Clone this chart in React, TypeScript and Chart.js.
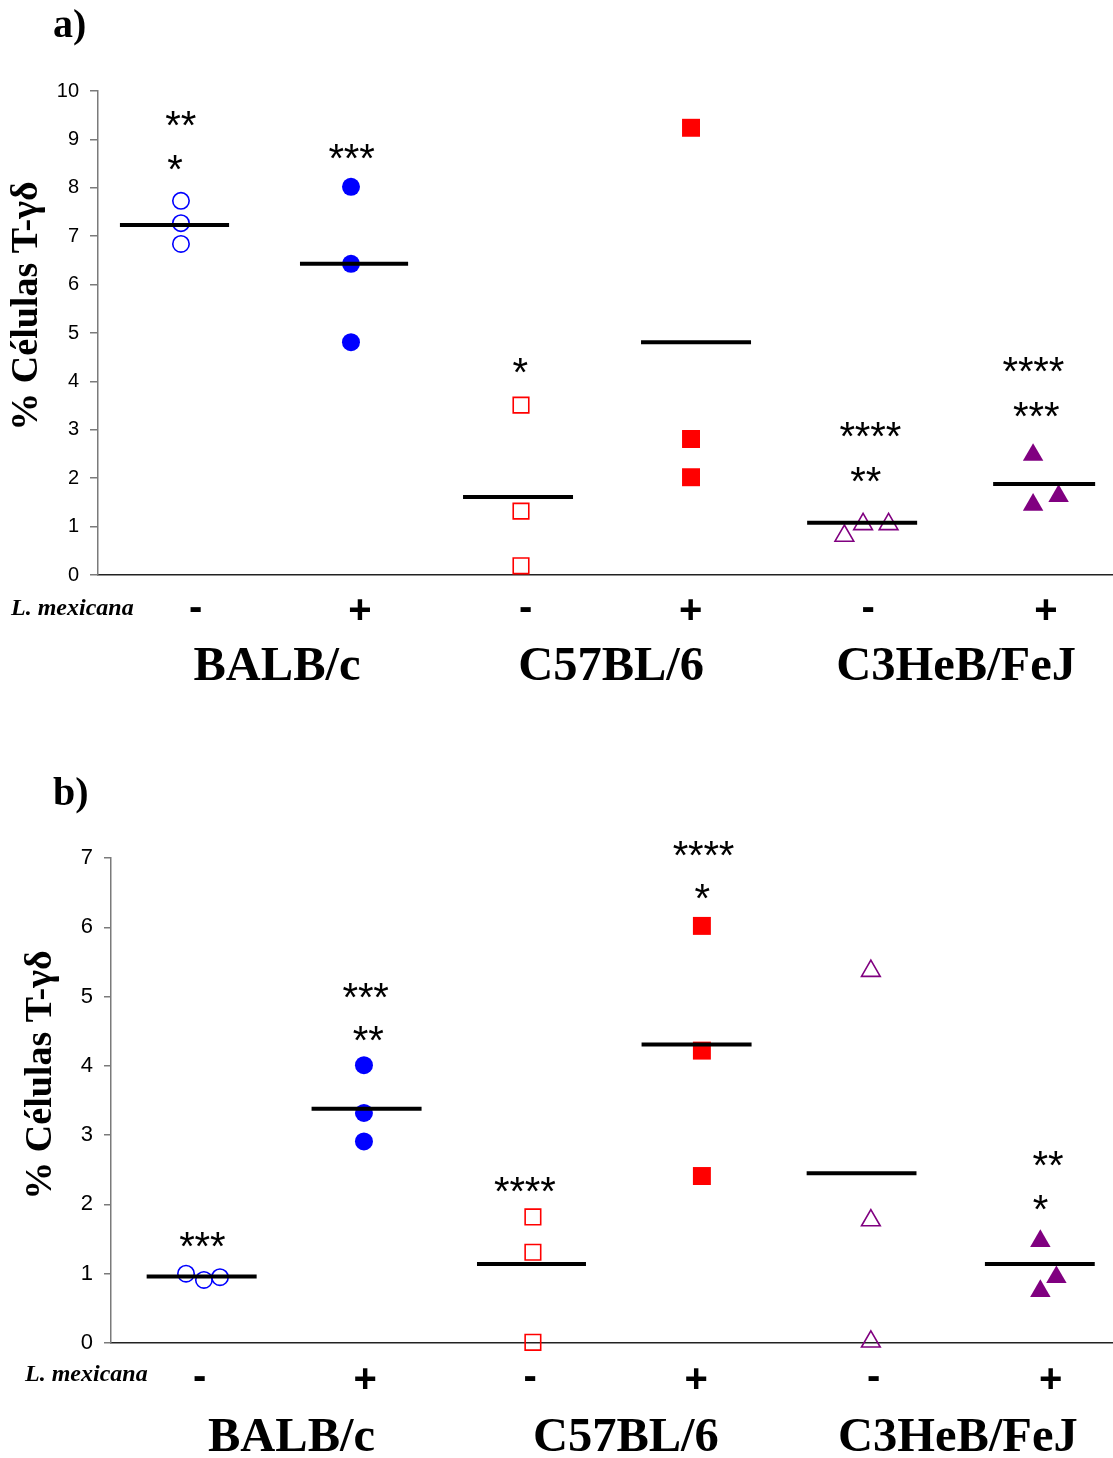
import React, { useEffect, useRef } from "react";
import { Chart, registerables } from "chart.js";

Chart.register(...registerables);

// ---------- data ----------
const groups = ["BALB/c -", "BALB/c +", "C57BL/6 -", "C57BL/6 +", "C3HeB/FeJ -", "C3HeB/FeJ +"];
const infection = ["-", "+", "-", "+", "-", "+"];
const strains = ["BALB/c", "C57BL/6", "C3HeB/FeJ"];
const yTitle = "% Células T-γδ";
const infectionLabel = "L. mexicana";

// panel a) individual values and means
const aValues = [
  [7.73, 7.27, 6.84],
  [8.02, 6.43, 4.81],
  [3.51, 1.32, 0.19],
  [9.24, 2.81, 2.02],
  [0.81, 1.05, 1.05],
  [2.48, 1.45, 1.63],
];
const aMeans = [7.23, 6.43, 1.61, 4.81, 1.08, 1.88];
const aStars = [["**", "*"], ["***"], ["*"], [], ["****", "**"], ["****", "***"]];
const aStarY = [[9.43, 8.53], [8.76], [4.32], [], [3.0, 2.08], [4.34, 3.42]];
const aYMax = 10;

// panel b) individual values and means
const bValues = [
  [1.0, 0.91, 0.95],
  [4.01, 3.32, 2.91],
  [1.82, 1.31, 0.01],
  [6.02, 4.22, 2.41],
  [5.37, 1.77, 0.02],
  [1.47, 0.95, 0.75],
];
const bMeans = [0.96, 3.38, 1.14, 4.31, 2.45, 1.14];
const bStars = [["***"], ["***", "**"], ["****"], ["****", "*"], [], ["**", "*"]];
const bStarY = [[1.49], [5.09, 4.47], [2.29], [7.14, 6.51], [], [2.67, 2.03]];
const bYMax = 7;

// ---------- styles / layout ----------
const BLUE = "#0000ff";
const RED = "#ff0000";
const PURPLE = "#800080";
const SERIF = '"Liberation Serif", "Times New Roman", serif';
const SANS = '"Liberation Sans", Arial, sans-serif';

const markerStyles = [
  { pointStyle: "circle", color: BLUE, filled: false, radius: 8.2 },
  { pointStyle: "circle", color: BLUE, filled: true, radius: 9 },
  { pointStyle: "rect", color: RED, filled: false, radius: 11 },
  { pointStyle: "rect", color: RED, filled: true, radius: 12.7 },
  { pointStyle: "triangle", color: PURPLE, filled: false, radius: 10.8 },
  { pointStyle: "triangle", color: PURPLE, filled: true, radius: 11.8 },
];

const W = 1113;
const H = 729;

const layoutA = {
  label: "a)",
  plotLeft: 98,
  plotTop: 91,
  plotBottom: 575,
  xMax: 5.97,
  tickFont: 20,
  tickPad: 11,
  tickLen: 8,
  labelX: 53,
  labelBase: 37,
  titleX: 37,
  titleY: 306,
  lmexX: 11,
  lmexBase: 615,
  signY: 609,
  strainBase: 680,
  jitter: [
    [-0.012, -0.012, -0.012],
    [-0.012, -0.012, -0.012],
    [-0.012, -0.012, -0.012],
    [-0.012, -0.012, -0.012],
    [-0.11, 0.0, 0.15],
    [0.0, 0.0, 0.15],
  ],
  lineExt: [
    [0.129, 0.771],
    [1.188, 1.824],
    [2.147, 2.794],
    [3.194, 3.841],
    [4.171, 4.818],
    [5.265, 5.865],
  ],
  signX: [0.573, 1.539, 2.514, 3.485, 4.529, 5.575],
  strainX: [1.053, 3.018, 5.047],
  starX: [[0.485, 0.451], [1.49], [2.482], [], [4.541, 4.514], [5.5, 5.517]],
};

const layoutB = {
  label: "b)",
  plotLeft: 111,
  plotTop: 129,
  plotBottom: 614,
  xMax: 5.93,
  tickFont: 22,
  tickPad: 11,
  tickLen: 7,
  labelX: 53,
  labelBase: 76,
  titleX: 51,
  titleY: 346,
  lmexX: 25,
  lmexBase: 652,
  signY: 649,
  strainBase: 722,
  jitter: [
    [-0.056, 0.05, 0.145],
    [-0.003, -0.003, -0.003],
    [-0.003, -0.003, -0.003],
    [-0.003, -0.003, -0.003],
    [-0.003, -0.003, -0.003],
    [0.0, 0.095, 0.0],
  ],
  lineExt: [
    [0.211, 0.862],
    [1.187, 1.838],
    [2.166, 2.811],
    [3.14, 3.791],
    [4.117, 4.767],
    [5.172, 5.822],
  ],
  signX: [0.524, 1.503, 2.479, 3.462, 4.512, 5.56],
  strainX: [1.068, 3.047, 5.012],
  starX: [[0.539], [1.506, 1.521], [2.448], [3.505, 3.497], [], [5.544, 5.5]],
};

type Layout = typeof layoutA;

function drawInkCentered(ctx: CanvasRenderingContext2D, text: string, cx: number, cy: number) {
  ctx.textAlign = "left";
  ctx.textBaseline = "alphabetic";
  const m = ctx.measureText(text);
  const x0 = cx - (m.actualBoundingBoxRight - m.actualBoundingBoxLeft) / 2;
  const y0 = cy + (m.actualBoundingBoxAscent - m.actualBoundingBoxDescent) / 2;
  ctx.fillText(text, x0, y0);
}

function drawStars(ctx: CanvasRenderingContext2D, text: string, cx: number, cy: number) {
  const pitch = 15.4;
  ctx.font = `40px ${SANS}`;
  const n = text.length;
  const start = cx - ((n - 1) * pitch) / 2;
  for (let i = 0; i < n; i++) drawInkCentered(ctx, "*", start + i * pitch, cy);
}

function makeConfig(values: number[][], means: number[], stars: string[][], starY: number[][], yMax: number, L: Layout): any {
  const datasets: any[] = [];
  means.forEach((m, i) => {
    datasets.push({
      label: groups[i] + " mean",
      data: [
        { x: L.lineExt[i][0], y: m },
        { x: L.lineExt[i][1], y: m },
      ],
      showLine: true,
      borderColor: "#000",
      borderWidth: 4,
      borderCapStyle: "butt",
      pointRadius: 0,
      order: 0,
      clip: false,
    });
  });
  values.forEach((vals, i) => {
    const s = markerStyles[i];
    datasets.push({
      label: groups[i],
      data: vals.map((v, j) => ({ x: i + 0.5 + L.jitter[i][j], y: v })),
      showLine: false,
      pointStyle: s.pointStyle,
      pointRadius: s.radius,
      pointHoverRadius: s.radius,
      backgroundColor: s.filled ? s.color : "rgba(0,0,0,0)",
      borderColor: s.color,
      borderWidth: s.filled ? 0 : 1.6,
      order: 1,
      clip: false,
    });
  });

  const textPlugin = {
    id: "panelText",
    afterDraw(chart: any) {
      const ctx: CanvasRenderingContext2D = chart.ctx;
      const xs = chart.scales.x;
      const ys = chart.scales.y;
      ctx.save();
      ctx.fillStyle = "#000";

      // panel label
      ctx.font = `bold 40px ${SERIF}`;
      ctx.textAlign = "left";
      ctx.textBaseline = "alphabetic";
      ctx.fillText(L.label, L.labelX, L.labelBase);

      // y title
      ctx.save();
      ctx.translate(L.titleX, L.titleY);
      ctx.rotate(-Math.PI / 2);
      ctx.font = `bold 38px ${SERIF}`;
      ctx.textAlign = "center";
      ctx.textBaseline = "alphabetic";
      ctx.fillText(yTitle, 0, 0);
      ctx.restore();

      // infection label
      ctx.font = `italic bold 24px ${SERIF}`;
      ctx.textAlign = "left";
      ctx.fillText(infectionLabel, L.lmexX, L.lmexBase);

      // +/- signs
      ctx.font = `bold 40px ${SANS}`;
      infection.forEach((sgn, i) => {
        drawInkCentered(ctx, sgn, xs.getPixelForValue(L.signX[i]), L.signY);
      });

      // strain labels
      ctx.font = `bold 48.5px ${SERIF}`;
      ctx.textAlign = "center";
      ctx.textBaseline = "alphabetic";
      strains.forEach((st, i) => {
        ctx.fillText(st, xs.getPixelForValue(L.strainX[i]), L.strainBase);
      });

      // significance stars
      stars.forEach((list, i) => {
        list.forEach((t, j) => {
          drawStars(ctx, t, xs.getPixelForValue(L.starX[i][j]), ys.getPixelForValue(starY[i][j]));
        });
      });
      ctx.restore();
    },
  };

  return {
    type: "scatter",
    data: { datasets },
    options: {
      animation: false,
      responsive: false,
      maintainAspectRatio: false,
      events: [],
      layout: { autoPadding: false, padding: { top: L.plotTop, left: 0, right: 0, bottom: 0 } },
      plugins: {
        legend: { display: false },
        tooltip: { enabled: false },
        title: { display: false },
      },
      scales: {
        x: {
          type: "linear",
          min: 0,
          max: L.xMax,
          ticks: { display: false },
          grid: { display: false, drawTicks: false },
          border: { display: true, color: "#222", width: 1.5 },
          afterFit: (s: any) => {
            s.height = H - L.plotBottom;
            s.paddingLeft = 0;
            s.paddingRight = 0;
          },
        },
        y: {
          type: "linear",
          min: 0,
          max: yMax,
          ticks: {
            stepSize: 1,
            color: "#000",
            padding: L.tickPad,
            font: { family: SANS, size: L.tickFont },
          },
          grid: {
            display: true,
            drawOnChartArea: false,
            drawTicks: true,
            tickLength: L.tickLen,
            color: "#7a7a7a",
            lineWidth: 1.5,
          },
          border: { display: true, color: "#7a7a7a", width: 1.5 },
          afterFit: (s: any) => {
            s.width = L.plotLeft;
            s.paddingLeft = 0;
            s.paddingRight = 0;
          },
        },
      },
    },
    plugins: [textPlugin],
  };
}

function Panel({ top, cfg }: { top: number; cfg: () => any }) {
  const ref = useRef<HTMLCanvasElement | null>(null);
  useEffect(() => {
    if (!ref.current) return;
    const chart = new Chart(ref.current, cfg());
    return () => chart.destroy();
  }, []);
  return (
    <canvas
      ref={ref}
      width={W}
      height={H}
      style={{ position: "absolute", left: 0, top, width: W, height: H, display: "block" }}
    />
  );
}

export default function App() {
  return (
    <div style={{ position: "absolute", left: 0, top: 0, width: W, height: 2 * H, background: "#fff", overflow: "hidden" }}>
      <Panel top={0} cfg={() => makeConfig(aValues, aMeans, aStars, aStarY, aYMax, layoutA)} />
      <Panel top={H} cfg={() => makeConfig(bValues, bMeans, bStars, bStarY, bYMax, layoutB)} />
    </div>
  );
}
